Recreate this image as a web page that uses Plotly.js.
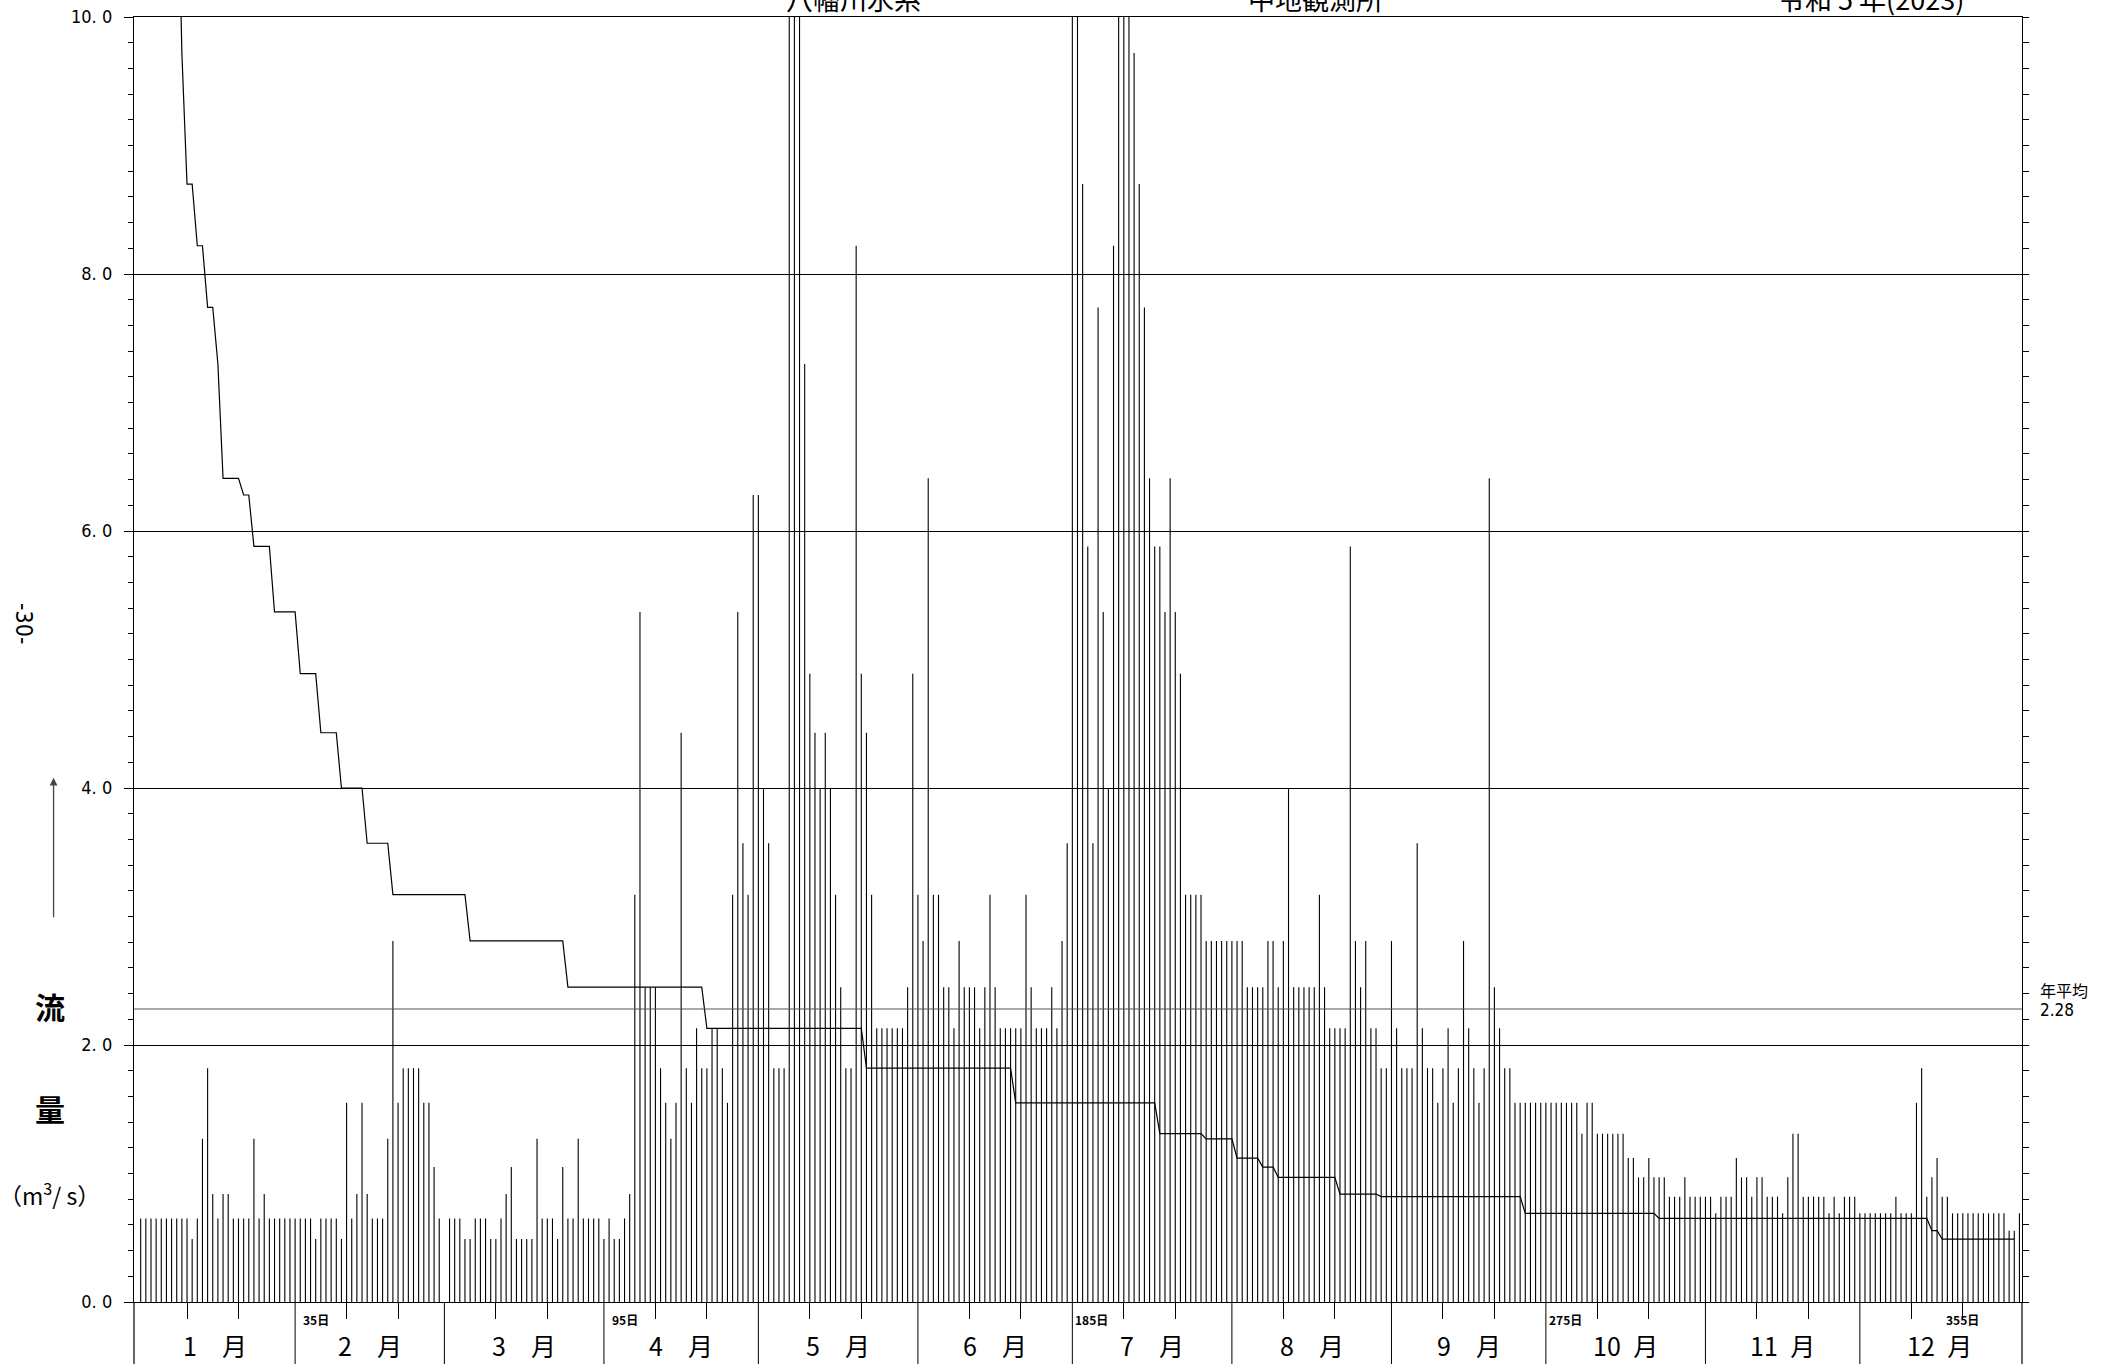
<!DOCTYPE html>
<html><head><meta charset="utf-8">
<script src="https://cdn.plot.ly/plotly-3.0.1.min.js"></script>
<style>html,body{margin:0;padding:0;background:#fff}#chart{width:2103px;height:1364px}</style>
</head><body><div id="chart"></div>
<script>
// Daily discharge (m3/s), one slot per calendar day on a 366-day axis (Feb 29 blank)
const flowJan = [0.65,0.65,0.65,0.65,0.65,0.65,0.65,0.65,0.65,0.65, 0.49,0.65,1.27,1.82,0.84,0.65,0.84,0.84,0.65,0.65, 0.65,0.65,1.27,0.65,0.84,0.65,0.65,0.65,0.65,0.65, 0.65];
const flowFeb = [0.65,0.65,0.65,0.49,0.65,0.65,0.65,0.65,0.49,1.55, 0.65,0.84,1.55,0.84,0.65,0.65,0.65,1.27,2.81,1.55, 1.82,1.82,1.82,1.82,1.55,1.55,1.05,0.65, null];
const flowMar = [0.65,0.65,0.65,0.49,0.49,0.65,0.65,0.65,0.49,0.49, 0.65,0.84,1.05,0.49,0.49,0.49,0.49,1.27,0.65,0.65, 0.65,0.49,1.05,0.65,0.65,1.27,0.65,0.65,0.65,0.65, 0.49];
const flowApr = [0.65,0.49,0.49,0.65,0.84,3.17,5.37,2.45,2.45,2.45, 1.82,1.55,1.27,1.55,4.43,1.82,1.55,2.13,1.82,1.82, 2.13,2.13,1.82,1.55,3.17,5.37,3.57,3.17,6.28,6.28];
const flowMay = [4.00,3.57,1.82,1.82,1.82,13.8,24.6,16.2,7.30,4.89, 4.43,4.00,4.43,4.00,3.17,2.45,1.82,1.82,8.22,4.89, 4.43,3.17,2.13,2.13,2.13,2.13,2.13,2.13,2.45,4.89, 3.17];
const flowJun = [2.81,6.41,3.17,3.17,2.45,2.45,2.13,2.81,2.45,2.45, 2.45,2.13,2.45,3.17,2.45,2.13,2.13,2.13,2.13,2.13, 3.17,2.45,2.13,2.13,2.13,2.45,2.13,2.81,3.57,11.9];
const flowJul = [22.4,8.70,5.88,3.57,7.74,5.37,4.00,8.22,14.7,27.3, 11.6,9.72,8.70,7.74,6.41,5.88,5.88,5.37,6.41,5.37, 4.89,3.17,3.17,3.17,3.17,2.81,2.81,2.81,2.81,2.81, 2.81];
const flowAug = [2.81,2.81,2.45,2.45,2.45,2.45,2.81,2.81,2.45,2.81, 4.00,2.45,2.45,2.45,2.45,2.45,3.17,2.45,2.13,2.13, 2.13,2.13,5.88,2.81,2.45,2.81,2.13,2.13,1.82,1.82, 2.81];
const flowSep = [2.13,1.82,1.82,1.82,3.57,2.13,1.82,1.82,1.55,1.82, 2.13,1.55,1.82,2.81,2.13,1.82,1.55,1.82,6.41,2.45, 2.13,1.82,1.82,1.55,1.55,1.55,1.55,1.55,1.55,1.55];
const flowOct = [1.55,1.55,1.55,1.55,1.55,1.55,1.31,1.55,1.55,1.31, 1.31,1.31,1.31,1.31,1.31,1.12,1.12,0.97,0.97,1.12, 0.97,0.97,0.97,0.82,0.82,0.82,0.97,0.82,0.82,0.82, 0.82];
const flowNov = [0.82,0.69,0.82,0.82,0.82,1.12,0.97,0.97,0.82,0.97, 0.97,0.82,0.82,0.82,0.69,0.97,1.31,1.31,0.82,0.82, 0.82,0.82,0.82,0.69,0.82,0.69,0.82,0.82,0.82,0.69];
const flowDec = [0.69,0.69,0.69,0.69,0.69,0.69,0.82,0.69,0.69,0.69, 1.55,1.82,0.82,0.97,1.12,0.82,0.82,0.69,0.69,0.69, 0.69,0.69,0.69,0.69,0.69,0.69,0.69,0.69,0.555,0.555, 0.69];

const annualMean = 2.28;
const monthLabels = ['1\u3000月','2\u3000月','3\u3000月','4\u3000月','5\u3000月','6\u3000月','7\u3000月','8\u3000月','9\u3000月','10\u2002月','11\u2002月','12\u2002月'];
const durationDays = [35, 95, 185, 275, 355];
const durationLabels = ['35日','95日','185日','275日','355日'];
const yTickVals = [0, 2, 4, 6, 8, 10];
const yTickText = ['0. 0','2. 0','4. 0','6. 0','8. 0','10. 0'];
const titleTexts = ['八幡川水系', '中地観測所', '令和 5 年(2023)'];

// ---- derived structures ----
const months = [flowJan,flowFeb,flowMar,flowApr,flowMay,flowJun,flowJul,flowAug,flowSep,flowOct,flowNov,flowDec];
const dailyFlow = [].concat(...months);
const slots = dailyFlow.map((v,i)=>i+1);
// each day drawn as a thin vertical stick from 0 to its value
const stickX = [], stickY = [];
dailyFlow.forEach((v,i)=>{ if(v!==null){ stickX.push(slots[i], slots[i], null); stickY.push(0, v, null); } });
const sortedFlow = dailyFlow.filter(v=>v!==null).sort((a,b)=>b-a);
const ranks = sortedFlow.map((v,i)=>i+1);
const monthStarts = []; const monthEnds = [];
let acc = 0;
months.forEach(m=>{monthStarts.push(acc); acc += m.length; monthEnds.push(acc);});
const decadeTicks = [];
monthStarts.forEach(s=>{decadeTicks.push(s+10); decadeTicks.push(s+20);});

const jp = '"Noto Sans CJK JP", sans-serif';
const narrow = '"Liberation Sans Narrow", "DejaVu Sans Condensed", "Liberation Sans", sans-serif';

const traces = [
  {type:'scatter', mode:'lines', x:stickX, y:stickY, connectgaps:false, line:{color:'#000', width:1.1}, hoverinfo:'skip'},
  {type:'scatter', mode:'lines', x:ranks, y:sortedFlow, line:{color:'#000', width:1.2}, hoverinfo:'skip'},
  {type:'scatter', mode:'lines', x:[-0.3, 366.5], y:[annualMean, annualMean], yaxis:'y2', line:{color:'#555', width:1.2}, hoverinfo:'skip'}
];

const shapes = [];
monthEnds.slice(0, -1).forEach(b=>{
  shapes.push({type:'line', xref:'x', yref:'paper', x0:b, x1:b, y0:0, y1:-0.06, line:{color:'#000', width:1}});
});
[0,1].forEach(px=>shapes.push({type:'line', xref:'paper', yref:'paper', x0:px, x1:px, y0:0, y1:-0.06, line:{color:'#000', width:1.2}}));

const annotations = [];
const titleX = [0.381, 0.626, 0.92];
titleTexts.forEach((t,i)=>annotations.push({text:t, xref:'paper', yref:'paper', x:titleX[i], y:1, xanchor:'center', yanchor:'middle', yshift:19, showarrow:false, font:{family:jp, size:27, color:'#000'}}));
monthLabels.forEach((t,i)=>annotations.push({text:t, xref:'x', yref:'paper', x:(monthStarts[i]+monthEnds[i])/2, y:-0.0335, xanchor:'center', yanchor:'middle', showarrow:false, font:{family:jp, size:25, color:'#000'}}));
const durShift = [0, 0, 4, 14, 0];
durationLabels.forEach((t,i)=>annotations.push({text:'<b>'+t+'</b>', xref:'x', yref:'paper', x:durationDays[i], y:-0.0136, xshift:durShift[i], xanchor:'center', yanchor:'middle', showarrow:false, font:{family:jp, size:12, color:'#000'}}));
annotations.push({text:'-30-', xref:'paper', yref:'paper', x:-0.0583, y:0.5276, xanchor:'center', yanchor:'middle', textangle:90, showarrow:false, font:{family:narrow, size:23, color:'#000'}});
annotations.push({text:'', xref:'paper', yref:'paper', x:-0.0426, y:0.408, ax:0, ay:141, showarrow:true, arrowhead:2, arrowsize:1.2, arrowwidth:1.3, arrowcolor:'#444'});
annotations.push({text:'<b>流</b>', xref:'paper', yref:'paper', x:-0.0447, y:0.2304, xanchor:'center', yanchor:'middle', showarrow:false, font:{family:jp, size:30, color:'#000'}});
annotations.push({text:'<b>量</b>', xref:'paper', yref:'paper', x:-0.0447, y:0.151, xanchor:'center', yanchor:'middle', showarrow:false, font:{family:jp, size:30, color:'#000'}});
annotations.push({text:'（m<sup>3</sup>/ s）', xref:'paper', yref:'paper', x:-0.0447, y:0.0844, xanchor:'center', yanchor:'middle', showarrow:false, font:{family:jp, size:23, color:'#000'}});
annotations.push({text:'年平均', xref:'paper', yref:'paper', x:1.0085, y:0.2428, xanchor:'left', yanchor:'middle', showarrow:false, font:{family:jp, size:16, color:'#000'}});
annotations.push({text:String(annualMean), xref:'paper', yref:'paper', x:1.0085, y:0.2272, xanchor:'left', yanchor:'middle', showarrow:false, font:{family:narrow, size:17, color:'#000'}});

const layout = {
  width:2103, height:1364,
  margin:{l:134, r:81, t:17, b:62, pad:0},
  paper_bgcolor:'#fff', plot_bgcolor:'#fff',
  showlegend:false, hovermode:false,
  xaxis:{range:[-0.3, 366.5], showgrid:false, zeroline:false, showline:true, mirror:true, linecolor:'#000', linewidth:1.2,
         tickmode:'array', tickvals:decadeTicks, ticks:'outside', ticklen:16, tickwidth:1, tickcolor:'#000', showticklabels:false},
  yaxis:{range:[0,10], tickmode:'array', tickvals:yTickVals, ticktext:yTickText, ticks:'outside', ticklen:9, tickwidth:1, tickcolor:'#000',
         showgrid:true, gridcolor:'#000', gridwidth:1, zeroline:false, showline:true, linecolor:'#000', linewidth:1.2,
         ticklabelstandoff:8, tickfont:{family:narrow, size:18, color:'#000'},
         minor:{dtick:0.2, tick0:0, ticks:'outside', ticklen:5, tickwidth:1, tickcolor:'#000', showgrid:false}},
  yaxis2:{range:[0,10], overlaying:'y', side:'right', showgrid:false, zeroline:false, showline:true, linecolor:'#000', linewidth:1.2,
          tickmode:'linear', tick0:0, dtick:0.2, ticks:'outside', ticklen:6, tickwidth:1, tickcolor:'#000', showticklabels:false},
  shapes:shapes, annotations:annotations
};

Plotly.newPlot('chart', traces, layout, {staticPlot:true, displayModeBar:false});
</script></body></html>
